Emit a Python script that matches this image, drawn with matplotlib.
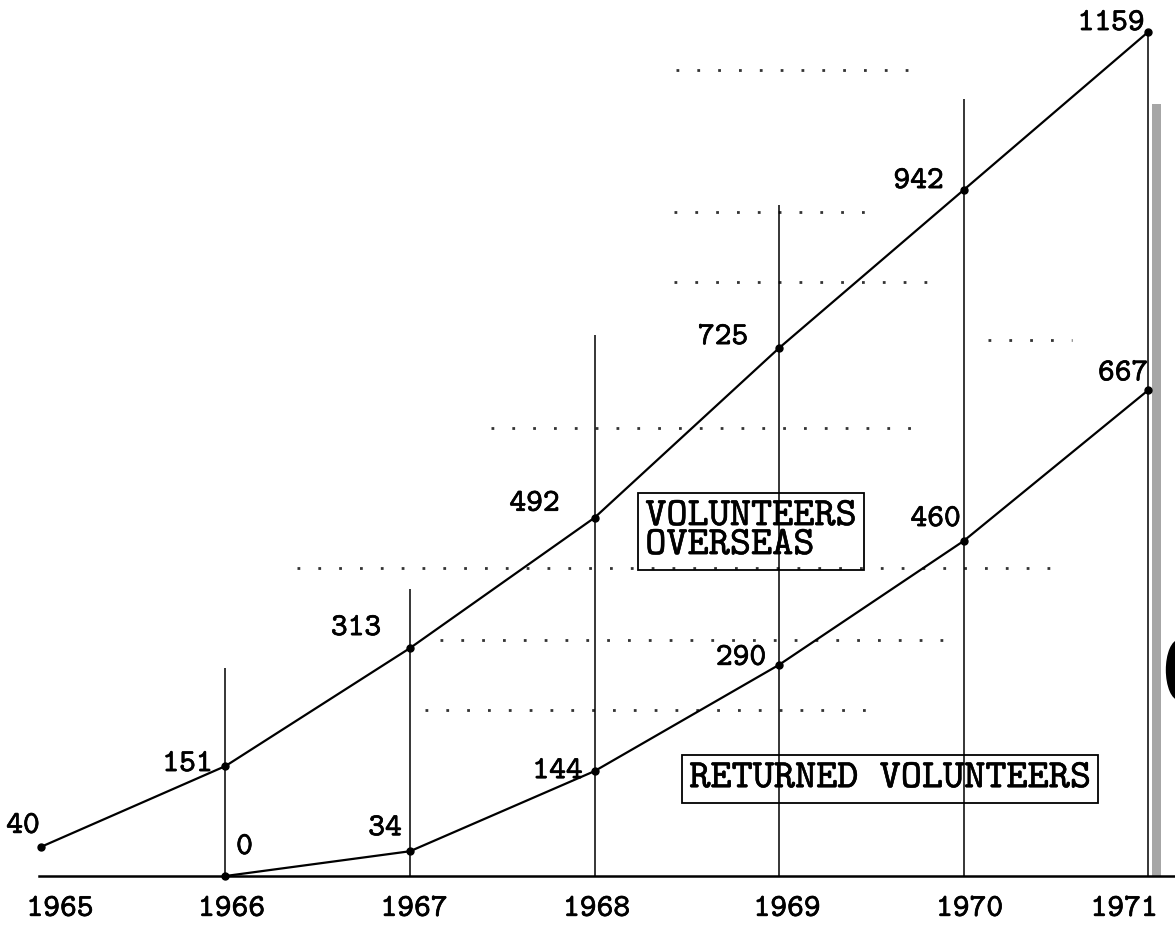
import matplotlib
matplotlib.use("Agg")
import matplotlib.pyplot as plt
import matplotlib.patheffects as pe
from matplotlib.patches import Ellipse
from matplotlib.transforms import ScaledTranslation

# values
years_overseas = [1965, 1966, 1967, 1968, 1969, 1970, 1971]
overseas = [40, 151, 313, 492, 725, 942, 1159]

years_returned = [1966, 1967, 1968, 1969, 1970, 1971]
returned = [0, 34, 144, 290, 460, 667]

year_ticks = [1965, 1966, 1967, 1968, 1969, 1970, 1971]
label_overseas = "VOLUNTEERS\nOVERSEAS"
label_returned = "RETURNED VOLUNTEERS"

# label offsets (pixels) from each point
off_overseas = [(-18, 20), (-38, 1), (-54, 19), (-60, 13), (-56, 10), (-45, 8), (-37, 8)]
off_returned = [(19, 28), (-25, 22), (-37, -1), (-38, 6), (-28, 21), (-25, 16)]
# the typed year labels sit a little off the year lines (pixels)
tick_shift = [19, 6, 4, 2, 8, 6, -24]

# height of the thin vertical guide at each year
guide_years = [1966, 1967, 1968, 1969, 1970, 1971]
guide_tops = [286, 394, 743, 921, 1067, 1159]

# dotted background rules: (y, x start, x end)
dotted = [
    (1107, 1968.44, 1969.70),
    (912, 1968.43, 1969.49),
    (816, 1968.43, 1969.89),
    (736, 1970.13, 1970.59),
    (615, 1967.44, 1969.79),
    (423, 1966.39, 1970.52),
    (324, 1967.16, 1969.92),
    (228, 1967.08, 1969.54),
]

num_font = "cmtt10"
heavy = [pe.withStroke(linewidth=0.5, foreground="black")]
heavy_box = [pe.withStroke(linewidth=0.4, foreground="black")]

fig = plt.figure(figsize=(11.75, 9.32), dpi=100)
ax = fig.add_axes([0, 0, 1, 1])
ax.set_xlim(1964.778, 1971.146)
ax.set_ylim(-76.9, 1203)

for y, x0, x1 in dotted:
    ax.hlines(y, x0, x1, colors="0.2", linewidth=2.0, linestyles=(0, (1, 6.5)))

ax.vlines(guide_years, 0, guide_tops, colors="black", linewidth=1.1)

# page edge of the scan
ax.fill_betweenx([0, 1060], 1971.02, 1971.07, color="0.65", linewidth=0)
ax.add_patch(Ellipse((1971.17, 283), 0.14, 82, color="black"))

ax.plot(years_overseas, overseas, color="black", linewidth=1.6,
        marker="o", markersize=5)
ax.plot(years_returned, returned, color="black", linewidth=1.6,
        marker="o", markersize=5)

for x, v, off in zip(years_overseas, overseas, off_overseas):
    ax.annotate(str(v), (x, v), xytext=off, textcoords="offset pixels",
                ha="center", va="center", fontsize=23, family=num_font,
                path_effects=heavy)
for x, v, off in zip(years_returned, returned, off_returned):
    ax.annotate(str(v), (x, v), xytext=off, textcoords="offset pixels",
                ha="center", va="center", fontsize=23, family=num_font,
                path_effects=heavy)

box = dict(boxstyle="square,pad=0.18", facecolor="none", edgecolor="black",
           linewidth=1.3)
ax.text(1968.848, 473, label_overseas, ha="center", va="center",
        multialignment="left", fontsize=29, family="cmtt10",
        linespacing=0.8, bbox=box, path_effects=heavy_box)
ax.text(1969.602, 133, label_returned, ha="center", va="center",
        fontsize=29, family="cmtt10", bbox=box, path_effects=heavy_box)

for side in ["top", "right", "left"]:
    ax.spines[side].set_visible(False)
ax.spines["bottom"].set_position(("data", 0))
ax.spines["bottom"].set_bounds(1964.99, 1971.146)
ax.spines["bottom"].set_linewidth(1.8)
ax.set_xticks(year_ticks)
ax.set_xticklabels([str(y) for y in year_ticks], family=num_font, fontsize=23)
ax.tick_params(axis="x", length=0, pad=15)
for lab, dx in zip(ax.get_xticklabels(), tick_shift):
    lab.set_transform(lab.get_transform() + ScaledTranslation(dx / 100, 0, fig.dpi_scale_trans))
    lab.set_path_effects(heavy)
ax.set_yticks([])

fig.savefig("out.png", dpi=100)
